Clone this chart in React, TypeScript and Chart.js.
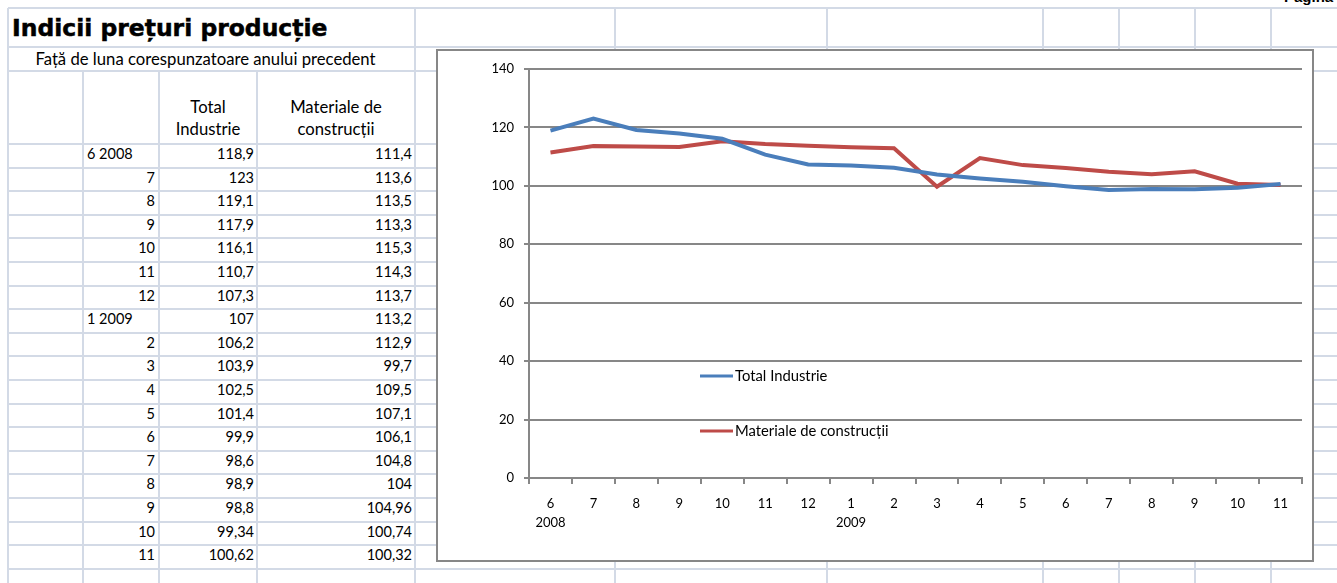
import React, { useEffect, useRef } from "react";
import { Chart, registerables } from "chart.js";

Chart.register(...registerables);

// ---------- data ----------
const title = "Indicii prețuri producție";
const subtitle = "Față de luna corespunzatoare anului precedent";
const months = ["6 2008", "7", "8", "9", "10", "11", "12", "1 2009", "2", "3", "4", "5", "6", "7", "8", "9", "10", "11"];
const totalIndustrie = [118.9, 123, 119.1, 117.9, 116.1, 110.7, 107.3, 107, 106.2, 103.9, 102.5, 101.4, 99.9, 98.6, 98.9, 98.8, 99.34, 100.62];
const materiale = [111.4, 113.6, 113.5, 113.3, 115.3, 114.3, 113.7, 113.2, 112.9, 99.7, 109.5, 107.1, 106.1, 104.8, 104, 104.96, 100.74, 100.32];
const seriesNames = ["Total Industrie", "Materiale de construcții"];
const headerLines = [["Total", "Industrie"], ["Materiale de", "construcții"]];
const yMin = 0;
const yMax = 140;
const yStep = 20;
const cornerText = "Pagina";

// ---------- layout ----------
const FONT = "Lato, 'Noto Sans', sans-serif";
const GRID_COLOR = "#D3DAE6";
const colX = [8, 83, 159, 257, 415, 615, 827, 1043, 1119, 1195, 1271];
const DATA_TOP = 144;
const ROW_H = 23.6;
const rowY = [8, 47, 71, ...Array.from({ length: 19 }, (_, i) => DATA_TOP + i * ROW_H)];
const SERIES_COLORS = ["#4A7EBB", "#BE4B48"];
const AXIS_COLOR = "#878787";

const fmt = (v: number) => String(v).replace(".", ",");

function LineChart() {
  const ref = useRef<HTMLCanvasElement | null>(null);
  useEffect(() => {
    if (!ref.current) return;
    const legendPlugin = {
      id: "insideLegend",
      afterDraw(chart: any) {
        const { ctx, chartArea } = chart;
        chart.data.datasets.forEach((ds: any, i: number) => {
          const x = chartArea.left + 171;
          const y = chartArea.top + 307 + i * 55;
          ctx.save();
          ctx.strokeStyle = ds.borderColor;
          ctx.lineWidth = 3;
          ctx.beginPath();
          ctx.moveTo(x, y);
          ctx.lineTo(x + 33, y);
          ctx.stroke();
          ctx.fillStyle = "#000";
          ctx.font = `14.8px ${FONT}`;
          ctx.textBaseline = "middle";
          ctx.textAlign = "left";
          ctx.fillText(ds.label, x + 35, y);
          ctx.restore();
        });
      },
    };
    const chart = new Chart(ref.current, {
      type: "line",
      data: {
        labels: months.map((m) => (m.includes(" ") ? m.split(" ") : m)),
        datasets: [
          { label: seriesNames[0], data: totalIndustrie, borderColor: SERIES_COLORS[0], backgroundColor: SERIES_COLORS[0], borderWidth: 4, pointRadius: 0, tension: 0 },
          { label: seriesNames[1], data: materiale, borderColor: SERIES_COLORS[1], backgroundColor: SERIES_COLORS[1], borderWidth: 4, pointRadius: 0, tension: 0 },
        ],
      },
      options: {
        animation: false,
        responsive: true,
        maintainAspectRatio: false,
        layout: { padding: { top: 18, right: 10, left: 0, bottom: 0 } },
        plugins: { legend: { display: false }, tooltip: { enabled: false } },
        scales: {
          x: {
            type: "category",
            offset: true,
            grid: { display: true, drawOnChartArea: false, drawTicks: true, tickLength: 6, offset: true, color: AXIS_COLOR, lineWidth: 2 },
            border: { display: true, color: AXIS_COLOR, width: 2 },
            ticks: { color: "#000", font: { family: FONT, size: 13, lineHeight: 1.5 }, padding: 10, maxRotation: 0, autoSkip: false },
            afterFit: (s: any) => { s.height = 82; },
          },
          y: {
            min: yMin,
            max: yMax,
            ticks: { stepSize: yStep, color: "#000", font: { family: FONT, size: 13 }, padding: 10 },
            grid: { color: AXIS_COLOR, lineWidth: 2, tickLength: 5, drawTicks: true },
            border: { display: true, color: AXIS_COLOR, width: 2 },
            afterFit: (s: any) => { s.width = 91; },
          },
        },
      },
      plugins: [legendPlugin],
    } as any);
    return () => chart.destroy();
  }, []);
  return <canvas ref={ref} />;
}

const abs = (style: React.CSSProperties): React.CSSProperties => ({ position: "absolute", ...style });

export default function App() {
  const lines: React.ReactNode[] = [];
  rowY.forEach((y, i) => {
    lines.push(<div key={"h" + i} style={abs({ left: 8, top: y - 1, width: 1337 - 8, height: 2, background: GRID_COLOR })} />);
  });
  colX.forEach((x, i) => {
    const top = x === 83 || x === 159 || x === 257 ? 71 : 8;
    lines.push(<div key={"v" + i} style={abs({ left: x - 1, top, width: 2, height: 583 - top, background: GRID_COLOR })} />);
  });

  const numText: React.CSSProperties = { fontFamily: FONT, fontSize: 14.5, color: "#000", whiteSpace: "nowrap" };
  const wordText: React.CSSProperties = { fontFamily: FONT, fontSize: 16.7, color: "#000", whiteSpace: "nowrap" };

  return (
    <div style={abs({ left: 0, top: 0, width: 1337, height: 583, overflow: "hidden", background: "#fff" })}>
      {lines}
      <div style={abs({ left: 1284, top: -12, fontFamily: "'Liberation Sans', sans-serif", fontWeight: "bold", fontSize: 15, color: "#000", whiteSpace: "nowrap" })}>{cornerText}</div>
      {/* title */}
      <div style={abs({ left: 12, top: 14, fontFamily: "'DejaVu Sans', sans-serif", fontWeight: "bold", fontSize: 23, lineHeight: "28px", color: "#000", whiteSpace: "nowrap", transform: "scaleX(1.02)", transformOrigin: "left center", WebkitTextStroke: "0.5px #000" })}>{title}</div>
      {/* subtitle */}
      <div style={abs({ left: 8, top: 48, width: 395, height: 23, lineHeight: "23px", textAlign: "center", ...wordText })}>{subtitle}</div>
      {/* header */}
      {headerLines.map((hl, i) => (
        <div key={"hd" + i} style={abs({ left: colX[2 + i], top: 96, width: colX[3 + i] - colX[2 + i], textAlign: "center", lineHeight: "22px", ...wordText })}>
          {hl.map((t, j) => (<div key={j}>{t}</div>))}
        </div>
      ))}
      {/* data rows */}
      {months.map((m, i) => {
        const top = DATA_TOP + i * ROW_H;
        const isText = m.includes(" ");
        return (
          <React.Fragment key={"r" + i}>
            <div style={abs({ left: colX[1] + 4, top, width: colX[2] - colX[1] - 8, height: ROW_H, lineHeight: ROW_H - 3 + "px", textAlign: isText ? "left" : "right", ...numText })}>{m}</div>
            <div style={abs({ left: colX[2] + 4, top, width: colX[3] - colX[2] - 7, height: ROW_H, lineHeight: ROW_H - 3 + "px", textAlign: "right", ...numText })}>{fmt(totalIndustrie[i])}</div>
            <div style={abs({ left: colX[3] + 4, top, width: colX[4] - colX[3] - 7, height: ROW_H, lineHeight: ROW_H - 3 + "px", textAlign: "right", ...numText })}>{fmt(materiale[i])}</div>
          </React.Fragment>
        );
      })}
      {/* chart */}
      <div style={abs({ left: 436, top: 49, width: 874, height: 509, border: `2px solid ${AXIS_COLOR}`, background: "#fff" })}>
        <div style={{ position: "relative", width: 874, height: 509 }}>
          <LineChart />
        </div>
      </div>
    </div>
  );
}
